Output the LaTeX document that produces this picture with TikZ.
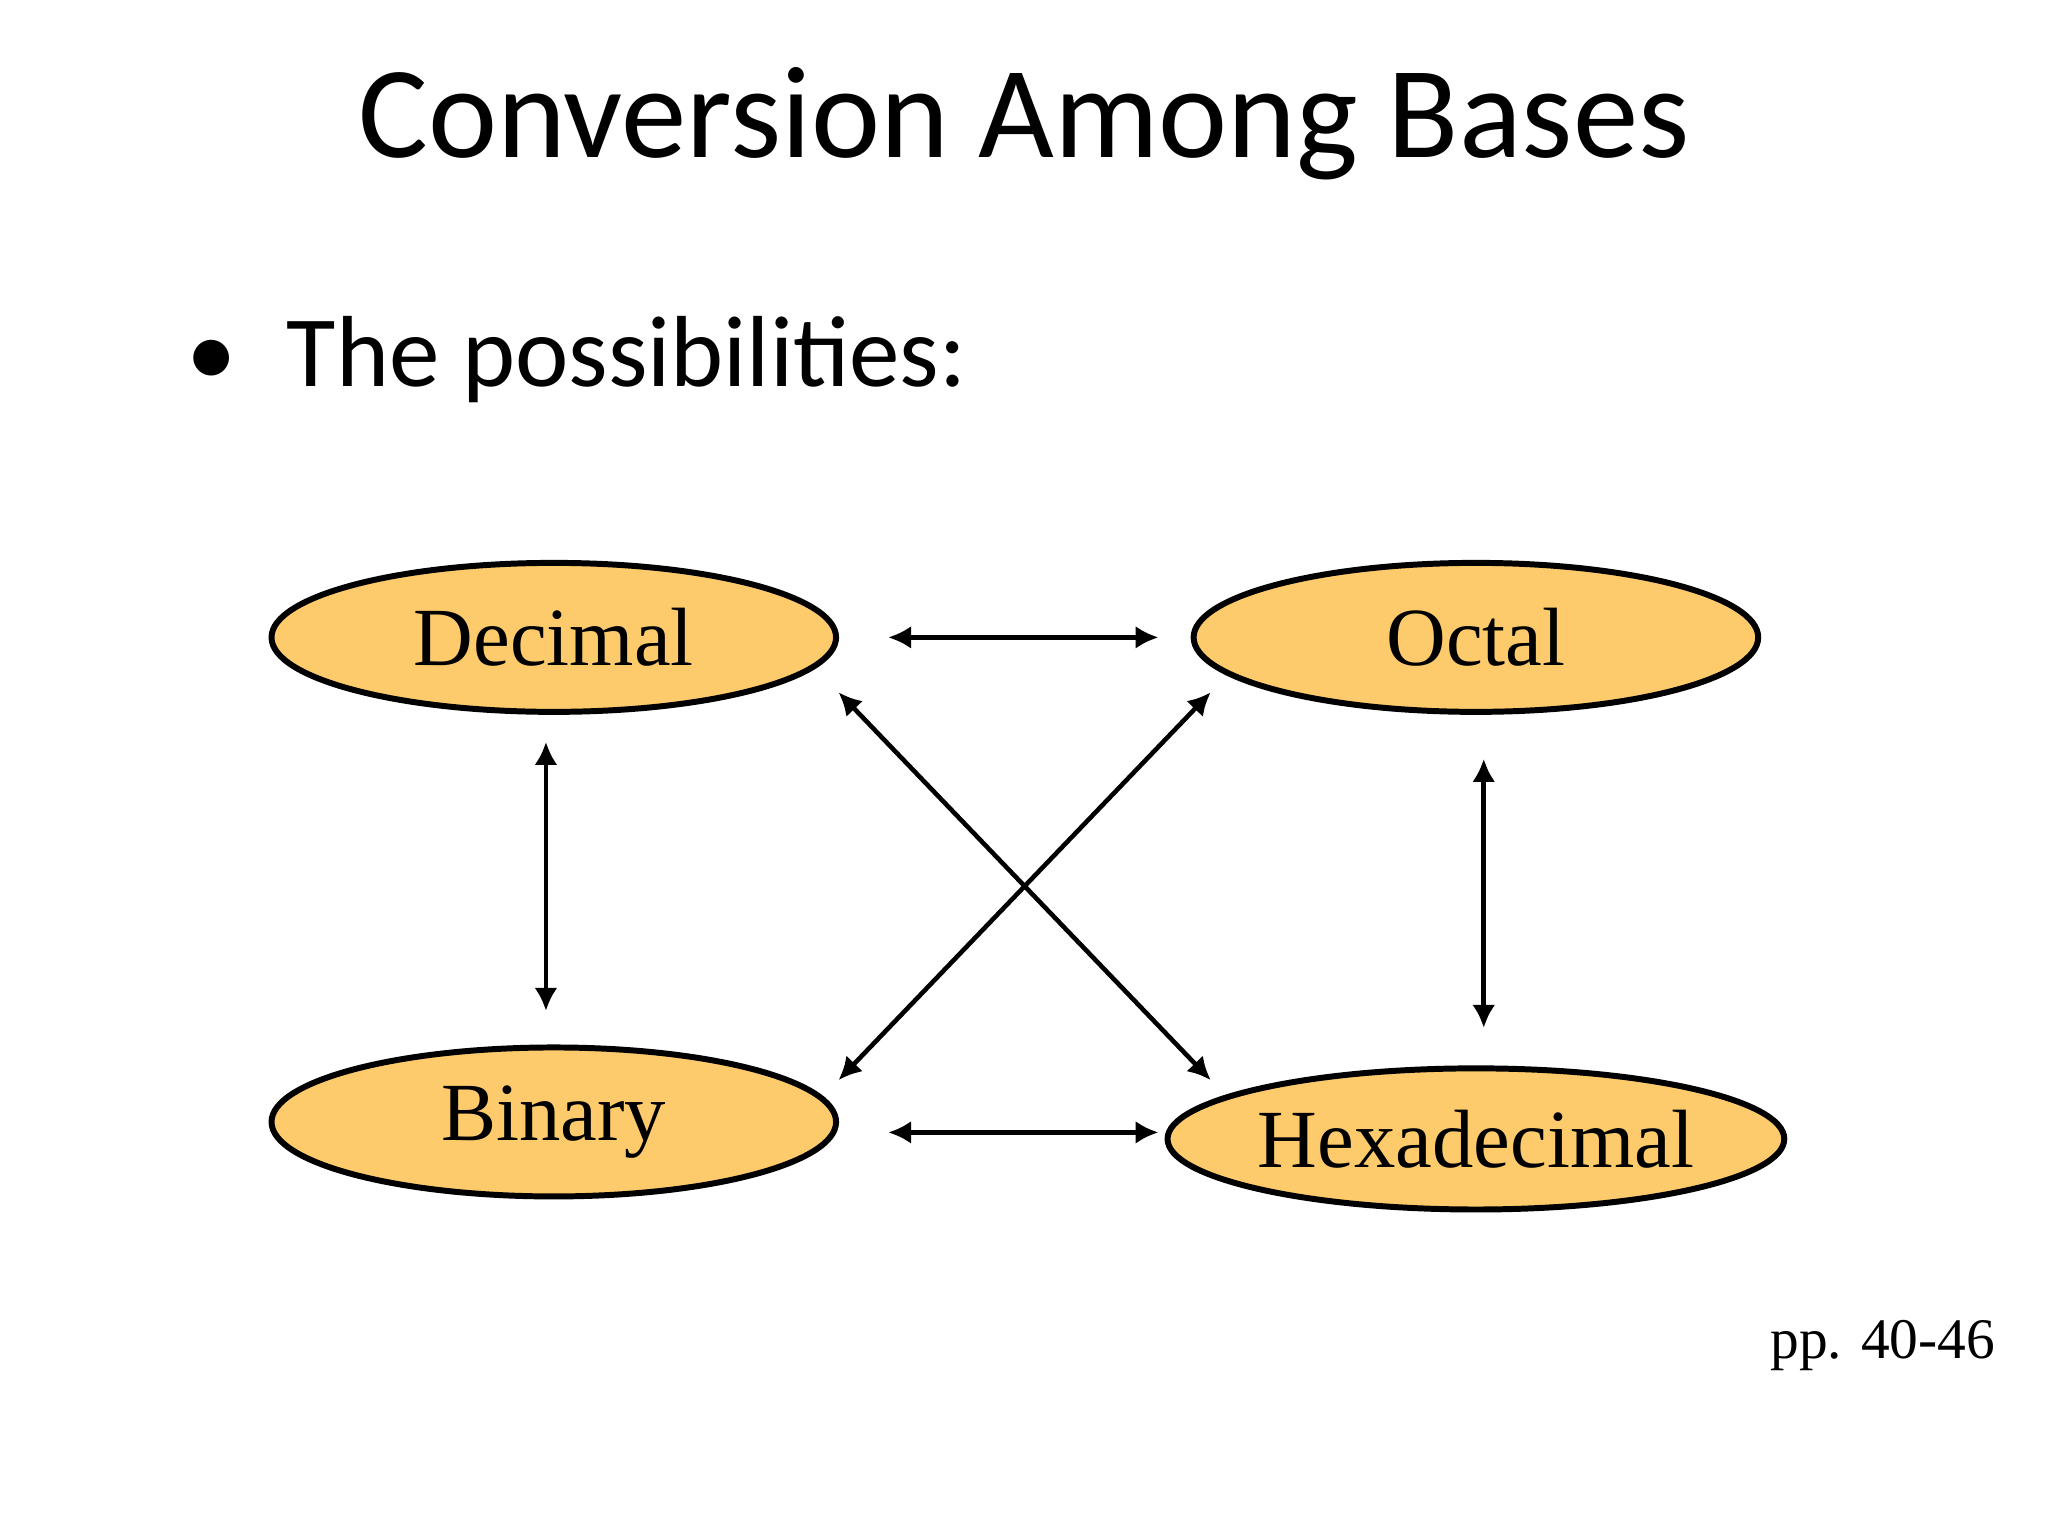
\documentclass[tikz,border=0pt]{standalone}
\usepackage{fontspec}
\setmainfont{Liberation Serif}
\newfontfamily\calib{Carlito}
\usetikzlibrary{shapes.geometric,arrows.meta}
\definecolor{oval}{HTML}{FDCB6C}
\begin{document}
\begin{tikzpicture}[x=0.01cm,y=-0.01cm,
  oval/.style={ellipse,draw=black,line width=1.3pt,fill=oval,inner sep=0pt},
  lab/.style={font=\fontsize{18}{20}\selectfont},
  conn/.style={line width=1pt,{Latex[length=5pt,width=5pt]}-{Latex[length=5pt,width=5pt]}}]
\useasboundingbox (0,0) rectangle (1568,1176);
\node[font=\calib\fontsize{28.5}{32}\selectfont] (title) at (784,95) {Conversion Among Bases};
\node[anchor=west,font=\calib\fontsize{22}{26}\selectfont] (bul) at (130,275) {\textbullet\hspace{0.5em}The possibilities:};
\node[oval,minimum width=4.32cm,minimum height=1.14cm,lab] (dec) at (424,488) {Decimal};
\node[oval,minimum width=4.32cm,minimum height=1.14cm,lab] (oct) at (1130,488) {Octal};
\node[oval,minimum width=4.32cm,minimum height=1.14cm,lab] (bin) at (424,859) {Binary};
\node[oval,minimum width=4.24cm,minimum height=1.08cm,lab] (hex) at (1130,872) {Hexadecimal};
\node[anchor=east,font=\fontsize{12.5}{14}\selectfont] (pp) at (1540,1030) {pp. 40-46};
\coordinate (a1) at (680,488); \coordinate (a2) at (887,488);
\coordinate (b1) at (680,867); \coordinate (b2) at (887,867);
\coordinate (c1) at (418,568); \coordinate (c2) at (418,774);
\coordinate (d1) at (1136,581); \coordinate (d2) at (1136,787);
\coordinate (e1) at (642,530); \coordinate (e2) at (927,827);
\coordinate (f1) at (927,530); \coordinate (f2) at (642,827);
\draw[conn] (a1) -- (a2);
\draw[conn] (b1) -- (b2);
\draw[conn] (c1) -- (c2);
\draw[conn] (d1) -- (d2);
\draw[conn] (e1) -- (e2);
\draw[conn] (f1) -- (f2);
\end{tikzpicture}
\end{document}
